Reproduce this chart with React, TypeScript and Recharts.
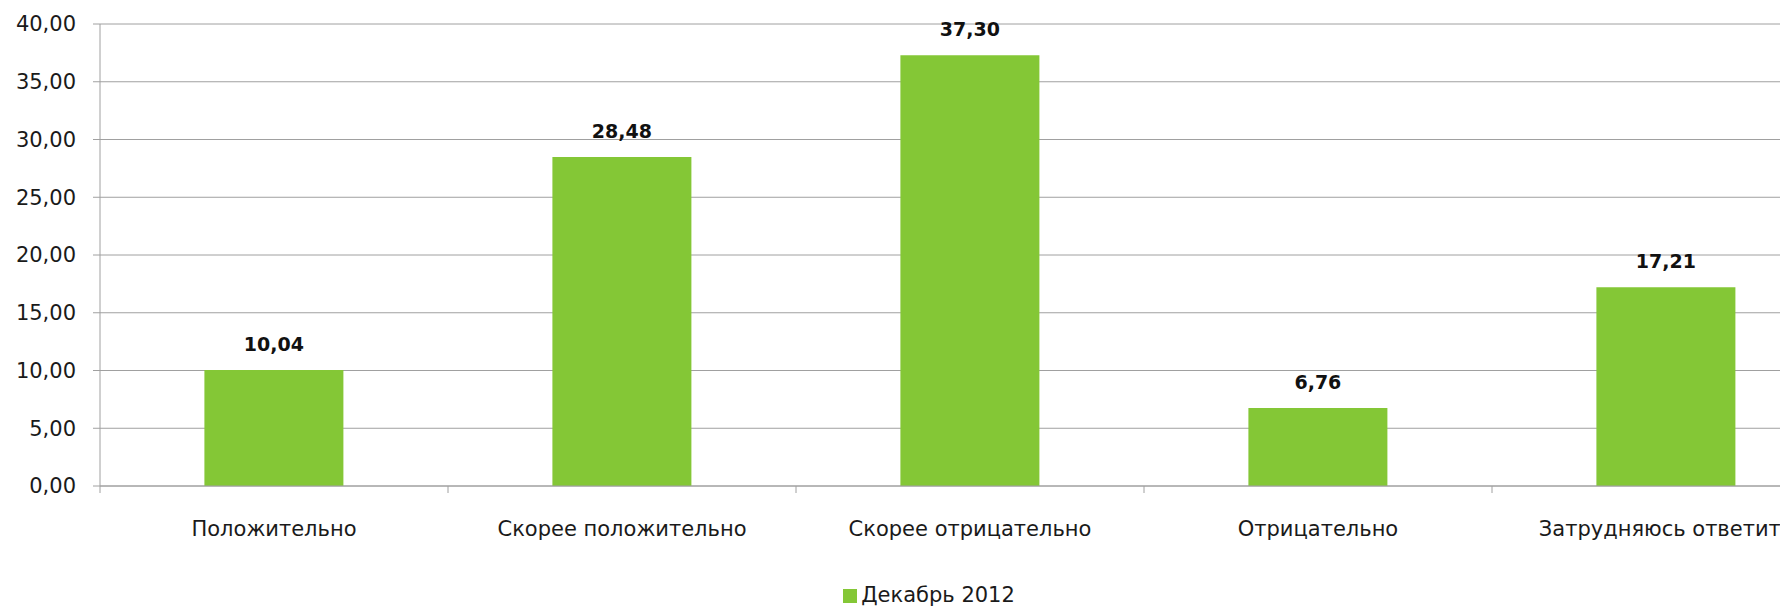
import React from "react";
import {
  BarChart,
  Bar,
  XAxis,
  YAxis,
  CartesianGrid,
  Legend,
  LabelList,
} from "recharts";

const categories = [
  "Положительно",
  "Скорее положительно",
  "Скорее отрицательно",
  "Отрицательно",
  "Затрудняюсь ответить",
];
const december2012 = [10.04, 28.48, 37.3, 6.76, 17.21];
const yTicks = [0, 5, 10, 15, 20, 25, 30, 35, 40];
const boundaryTicks = [0, 1, 2, 3, 4, 5];

// slot = position of each category's centre in "category units", used by the
// helper axis that draws the Excel-style tick marks between categories
const data = categories.map((name, i) => ({
  name,
  value: december2012[i],
  slot: i + 0.5,
}));

const fmt = (v: number) => v.toFixed(2).replace(".", ",");

const FONT = '"DejaVu Sans", sans-serif';
const GREEN = "#84C736";
const GREY = "#a0a0a0";

const App: React.FC = () => {
  return (
    <div
      style={{
        position: "absolute",
        left: 0,
        top: 0,
        width: 1780,
        height: 608,
        overflow: "hidden",
        background: "#fff",
        fontFamily: FONT,
      }}
    >
      <BarChart
        width={1860}
        height={608}
        data={data}
        margin={{ top: 24, right: 20, left: 0, bottom: 0 }}
        barCategoryGap="30%"
      >
        <CartesianGrid vertical={false} stroke={GREY} xAxisId={1} />
        {/* tick marks on the category boundaries */}
        <XAxis
          xAxisId={0}
          dataKey="slot"
          type="number"
          scale="linear"
          domain={[0, 5]}
          ticks={boundaryTicks}
          allowDataOverflow
          height={1}
          tick={() => <g />}
          tickSize={7}
          axisLine={{ stroke: GREY }}
          tickLine={{ stroke: GREY }}
        />
        {/* category labels, no tick marks */}
        <XAxis
          xAxisId={1}
          dataKey="name"
          height={95}
          axisLine={false}
          tickLine={false}
          tickSize={0}
          tickMargin={34}
          interval={0}
          tick={{ fill: "#1a1a1a", fontSize: 21, fontFamily: FONT }}
        />
        <YAxis
          width={100}
          domain={[0, 40]}
          ticks={yTicks}
          tickFormatter={fmt}
          tickSize={7}
          tickMargin={17}
          axisLine={{ stroke: GREY }}
          tickLine={{ stroke: GREY }}
          tick={{ fill: "#1a1a1a", fontSize: 21, fontFamily: FONT }}
        />
        <Legend
          verticalAlign="bottom"
          align="center"
          iconType="square"
          iconSize={14}
          wrapperStyle={{
            height: 26,
            lineHeight: "26px",
            fontSize: 21,
            fontFamily: FONT,
            paddingLeft: 14,
          }}
          formatter={(v: string) => <span style={{ color: "#1a1a1a" }}>{v}</span>}
        />
        <Bar
          xAxisId={1}
          dataKey="value"
          name="Декабрь 2012"
          fill={GREEN}
          isAnimationActive={false}
        >
          <LabelList
            dataKey="value"
            position="top"
            offset={19}
            formatter={(v: number) => fmt(v)}
            style={{ fill: "#111", fontSize: 19, fontWeight: 700, fontFamily: FONT }}
          />
        </Bar>
      </BarChart>
    </div>
  );
};

export default App;
